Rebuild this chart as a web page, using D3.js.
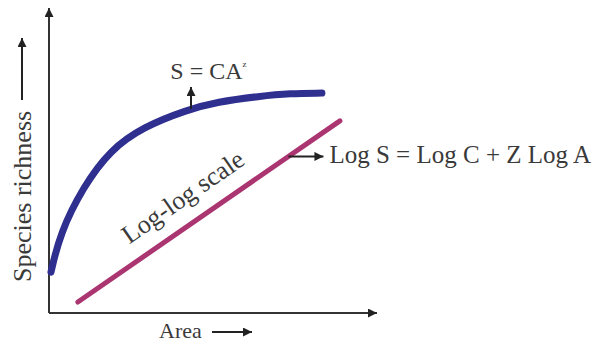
<!DOCTYPE html>
<meta charset="utf-8">
<style>
  body { margin: 0; background: #fff; }
  text { font-family: "Liberation Serif", "Times New Roman", serif; fill: #3a3a3a; }
</style>
<body>
<svg id="chart" width="605" height="343"></svg>
</body>
<script src="https://d3js.org/d3.v7.min.js"></script>
<script>

// species-area curve, S = CA^z (arbitrary units)
var areaVals     = [0.06, 0.34, 1.04, 1.86, 2.87, 4.21, 5.12, 6.43, 7.35, 8.32];
var richnessVals = [1.34, 2.62, 4.13, 5.34, 6.10, 6.66, 6.92, 7.11, 7.20, 7.21];

// log-log straight line
var logAreaVals     = [0.88, 8.87];
var logRichnessVals = [0.36, 6.30];

var labels = {
  yAxis: "Species richness",
  xAxis: "Area",
  curve: "S = CA",
  curveSup: "z",
  line: "Log S = Log C + Z Log A",
  lineOn: "Log-log scale"
};

var svg = d3.select("#chart"),
    margin = {top: 8, right: 228, bottom: 30, left: 49},
    width = +svg.attr("width") - margin.left - margin.right,
    height = +svg.attr("height") - margin.top - margin.bottom,
    g = svg.append("g").attr("transform", "translate(" + margin.left + "," + margin.top + ")");

var x = d3.scaleLinear().domain([0, 10]).range([0, width]);
var y = d3.scaleLinear().domain([0, 10]).range([height, 0]);

var defs = svg.append("defs");
defs.append("marker")
    .attr("id", "arrow")
    .attr("viewBox", "0 0 10 10")
    .attr("refX", 10).attr("refY", 5)
    .attr("markerUnits", "userSpaceOnUse")
    .attr("markerWidth", 11).attr("markerHeight", 9)
    .attr("orient", "auto")
  .append("path")
    .attr("d", "M0,0L10,5L0,10z")
    .attr("fill", "#222");

// axes: no ticks, just the domain line with an arrow
var xAxis = g.append("g")
    .attr("transform", "translate(0," + height + ")")
    .call(d3.axisBottom(x).tickValues([]).tickSizeOuter(0));
var yAxis = g.append("g")
    .call(d3.axisLeft(y).tickValues([]).tickSizeOuter(0));

xAxis.select(".domain").attr("stroke", "#333").attr("stroke-width", 2)
    .attr("d", "M0,0H" + width).attr("marker-end", "url(#arrow)");
yAxis.select(".domain").attr("stroke", "#333").attr("stroke-width", 2)
    .attr("d", "M0," + height + "V0").attr("marker-end", "url(#arrow)");

// curve
var curveData = areaVals.map(function(a, i) { return [a, richnessVals[i]]; });
g.append("path")
    .datum(curveData)
    .attr("fill", "none")
    .attr("stroke", "#2f2f90")
    .attr("stroke-width", 7)
    .attr("stroke-linecap", "round")
    .attr("d", d3.line()
      .x(function(d) { return x(d[0]); })
      .y(function(d) { return y(d[1]); })
      .curve(d3.curveBasis));

// straight line
var lineData = logAreaVals.map(function(a, i) { return [a, logRichnessVals[i]]; });
g.append("path")
    .datum(lineData)
    .attr("fill", "none")
    .attr("stroke", "#ab3571")
    .attr("stroke-width", 5)
    .attr("stroke-linecap", "round")
    .attr("d", d3.line()
      .x(function(d) { return x(d[0]); })
      .y(function(d) { return y(d[1]); }));

function lineAt(a) {
  return logRichnessVals[0] + (a - logAreaVals[0]) *
    (logRichnessVals[1] - logRichnessVals[0]) / (logAreaVals[1] - logAreaVals[0]);
}

function arrow(x1, y1, x2, y2) {
  g.append("line")
      .attr("x1", x1).attr("y1", y1).attr("x2", x2).attr("y2", y2)
      .attr("stroke", "#222").attr("stroke-width", 2)
      .attr("marker-end", "url(#arrow)");
}

// S = CA^z label and pointer
var px = x(4.33);
g.append("text")
    .attr("x", x(3.7)).attr("y", 71)
    .style("font-size", "24px")
    .text(labels.curve)
  .append("tspan")
    .attr("dy", -12)
    .style("font-size", "9px")
    .text(labels.curveSup);
arrow(px, y(6.63) - 2, px, 79);

// log-log label and pointer
var lx0 = x(7.3), ly0 = y(lineAt(7.3));
arrow(lx0, ly0, lx0 + 35, ly0);
g.append("text")
    .attr("x", lx0 + 41).attr("y", ly0 + 7)
    .style("font-size", "25px")
    .text(labels.line);

// text along the straight line
var ang = Math.atan2(y(logRichnessVals[1]) - y(logRichnessVals[0]),
                     x(logAreaVals[1]) - x(logAreaVals[0])) * 180 / Math.PI;
var t0 = 2.45;
g.append("text")
    .attr("transform", "translate(" + x(t0) + "," + (y(lineAt(t0)) - 22) + ") rotate(" + ang + ")")
    .style("font-size", "26px")
    .text(labels.lineOn);

// axis titles
svg.append("text")
    .attr("transform", "translate(31,282) rotate(-90)")
    .style("font-size", "26px")
    .text(labels.yAxis);
svg.append("line")
    .attr("x1", 22).attr("y1", 100).attr("x2", 22).attr("y2", 38)
    .attr("stroke", "#222").attr("stroke-width", 2)
    .attr("marker-end", "url(#arrow)");

svg.append("text")
    .attr("x", 159).attr("y", 338)
    .style("font-size", "22px")
    .text(labels.xAxis);
svg.append("line")
    .attr("x1", 212).attr("y1", 332).attr("x2", 252).attr("y2", 332)
    .attr("stroke", "#222").attr("stroke-width", 2)
    .attr("marker-end", "url(#arrow)");

</script>
